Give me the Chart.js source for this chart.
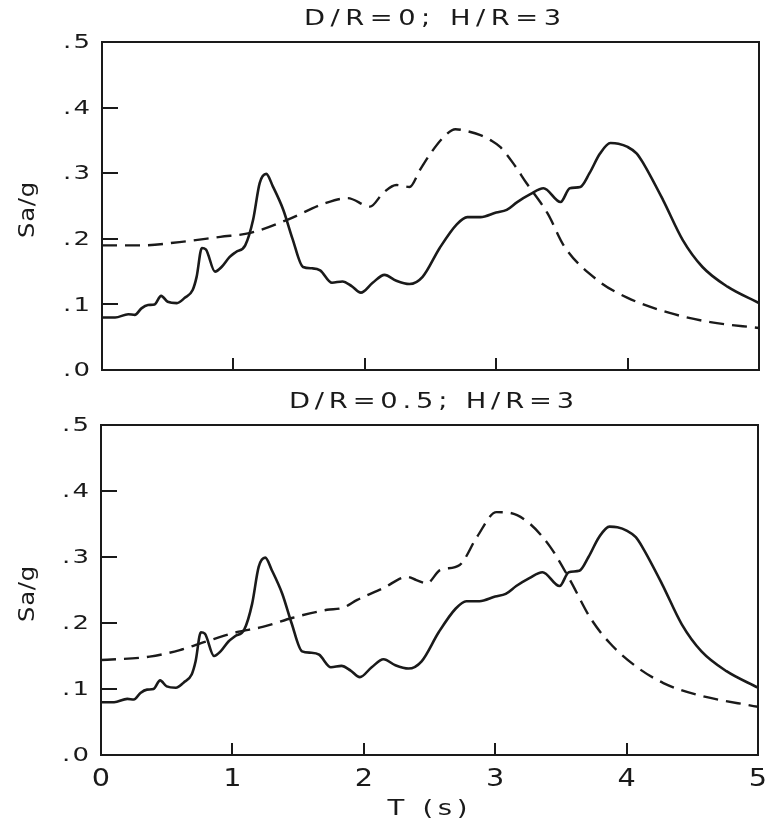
<!DOCTYPE html>
<html>
<head>
<meta charset="utf-8">
<script src="https://cdn.jsdelivr.net/npm/chart.js@4.4.0/dist/chart.umd.min.js"></script>
<style>
  body { margin: 0; background: #fff; }
  .panel { position: absolute; left: 0; width: 770px; }
  #top { top: 0; height: 390px; }
  #bottom { top: 385px; height: 437px; }
</style>
</head>
<body>
<div class="panel" id="top"><canvas id="chartTop"></canvas></div>
<div class="panel" id="bottom"><canvas id="chartBottom"></canvas></div>
<script>
// period axis and Sa/g values
var solidT = [0, 0.1, 0.2, 0.25, 0.3, 0.35, 0.4, 0.45, 0.5, 0.57, 0.63, 0.69, 0.72, 0.76, 0.79, 0.86, 0.91, 0.97, 1.02, 1.09, 1.15, 1.2, 1.25, 1.3, 1.38, 1.45, 1.53, 1.6, 1.66, 1.75, 1.83, 1.9, 1.97, 2.06, 2.15, 2.24, 2.34, 2.44, 2.57, 2.7, 2.78, 2.88, 3.0, 3.08, 3.16, 3.26, 3.36, 3.49, 3.56, 3.64, 3.71, 3.79, 3.87, 3.93, 4.0, 4.07, 4.12, 4.27, 4.42, 4.57, 4.76, 5.0];
var solidSa = [0.08, 0.08, 0.085, 0.084, 0.094, 0.099, 0.1, 0.113, 0.104, 0.102, 0.11, 0.122, 0.142, 0.186, 0.184, 0.15, 0.157, 0.172, 0.18, 0.19, 0.229, 0.285, 0.299, 0.28, 0.244, 0.2, 0.157, 0.155, 0.152, 0.133, 0.135, 0.128, 0.118, 0.133, 0.145, 0.136, 0.131, 0.142, 0.186, 0.222, 0.233, 0.233, 0.24, 0.244, 0.256, 0.268, 0.277, 0.256, 0.277, 0.279, 0.30, 0.33, 0.346, 0.345, 0.34, 0.33, 0.315, 0.259, 0.198, 0.157, 0.127, 0.102];

var dashTopT = [0, 0.3, 0.59, 0.9, 1.13, 1.41, 1.71, 1.87, 2.04, 2.14, 2.24, 2.34, 2.42, 2.5, 2.6, 2.69, 2.78, 2.88, 2.96, 3.03, 3.13, 3.23, 3.39, 3.52, 3.77, 4.0, 4.32, 4.63, 5.0];
var dashTopSa = [0.19, 0.19, 0.195, 0.203, 0.209, 0.229, 0.255, 0.262, 0.249, 0.27, 0.282, 0.279, 0.305, 0.33, 0.355, 0.367, 0.364, 0.358, 0.35, 0.34, 0.315, 0.285, 0.239, 0.188, 0.137, 0.11, 0.087, 0.073, 0.064];

var dashBotT = [0, 0.37, 0.6, 0.8, 1.03, 1.23, 1.46, 1.72, 1.84, 1.95, 2.15, 2.33, 2.40, 2.48, 2.58, 2.73, 2.86, 3.01, 3.11, 3.26, 3.42, 3.57, 3.72, 3.87, 4.08, 4.28, 4.54, 5.0];
var dashBotSa = [0.144, 0.149, 0.159, 0.172, 0.186, 0.194, 0.208, 0.22, 0.223, 0.235, 0.253, 0.27, 0.265, 0.26, 0.28, 0.288, 0.33, 0.368, 0.367, 0.351, 0.315, 0.265, 0.209, 0.17, 0.133, 0.109, 0.091, 0.073];

var xTicks = [0, 1, 2, 3, 4, 5];
var yTicks = [0, 0.1, 0.2, 0.3, 0.4, 0.5];
var yTickLabels = [".0", ".1", ".2", ".3", ".4", ".5"];

function pts(xs, ys) {
  return xs.map(function (x, i) { return { x: x, y: ys[i] }; });
}

var ink = "#1a1a1a";
var font = "'DejaVu Sans', sans-serif";

// plotter-style lettering: glyphs widened a bit, then spaced out to the target width
function fitText(ctx, txt, x, y, size, width, align, stretch) {
  ctx.save();
  ctx.font = size + "px " + font;
  var base = ctx.measureText(txt).width;
  var sx = stretch || 1.25;
  var sp = txt.length > 1 ? Math.max(0, (width / sx - base) / (txt.length - 1)) : 0;
  ctx.letterSpacing = sp + "px";
  ctx.fillStyle = ink;
  ctx.textBaseline = "middle";
  ctx.textAlign = "left";
  var w = (base + sp * (txt.length - 1)) * sx;
  var x0 = align === "right" ? x - w : (align === "left" ? x : x - w / 2);
  ctx.translate(x0, y);
  ctx.scale(sx, 1);
  ctx.fillText(txt, 0, 0);
  ctx.restore();
}

// frame, inward ticks and all labels
var framePlugin = {
  id: "frame",
  afterDraw: function (chart, args, opts) {
    var ctx = chart.ctx, a = chart.chartArea;
    var xs = chart.scales.x, ys = chart.scales.y;
    ctx.save();
    ctx.strokeStyle = ink;
    ctx.lineWidth = 2;
    ctx.strokeRect(a.left, a.top, a.right - a.left, a.bottom - a.top);
    ctx.beginPath();
    yTicks.forEach(function (v) {
      if (v <= 0 || v >= 0.5) return;
      var py = Math.round(ys.getPixelForValue(v));
      ctx.moveTo(a.left, py);
      ctx.lineTo(a.left + 16, py);
    });
    xTicks.forEach(function (v) {
      if (v <= 0 || v >= 5) return;
      var px = Math.round(xs.getPixelForValue(v));
      ctx.moveTo(px, a.bottom);
      ctx.lineTo(px, a.bottom - 12);
    });
    ctx.stroke();
    ctx.restore();

    yTicks.forEach(function (v, i) {
      fitText(ctx, yTickLabels[i], a.left - 12, ys.getPixelForValue(v) + 1, 20, 27, "right", 1.3);
    });
    fitText(ctx, opts.title, (a.left + a.right) / 2 + 2, a.top - 22, 21, opts.titleWidth, "center", 1.3);

    ctx.save();
    ctx.translate(28, (a.top + a.bottom) / 2 + 4);
    ctx.rotate(-Math.PI / 2);
    fitText(ctx, "Sa/g", 0, 0, 22, 56, "center", 1.1);
    ctx.restore();

    if (opts.showX) {
      xTicks.forEach(function (v) {
        fitText(ctx, String(v), xs.getPixelForValue(v), a.bottom + 24, 25, 0, "center", 1.15);
      });
      fitText(ctx, "T (s)", (a.left + a.right) / 2 - 2, a.bottom + 54, 22, 80, "center", 1.25);
    }
  }
};

function makeChart(id, dashData, title, titleWidth, showX, pad) {
  return new Chart(document.getElementById(id), {
    type: "line",
    data: {
      datasets: [
        {
          label: "solid",
          data: pts(solidT, solidSa),
          borderColor: ink,
          borderWidth: 2.6,
          pointRadius: 0,
          tension: 0.25,
          cubicInterpolationMode: "monotone"
        },
        {
          label: "dashed",
          data: dashData,
          borderColor: ink,
          borderWidth: 2.4,
          borderDash: [15, 8],
          pointRadius: 0,
          tension: 0.25,
          cubicInterpolationMode: "monotone"
        }
      ]
    },
    options: {
      responsive: true,
      maintainAspectRatio: false,
      animation: false,
      layout: { padding: pad },
      plugins: {
        legend: { display: false },
        tooltip: { enabled: false },
        frame: { title: title, titleWidth: titleWidth, showX: showX }
      },
      scales: {
        x: {
          type: "linear",
          min: 0,
          max: 5,
          grid: { display: false },
          border: { display: false },
          ticks: { display: false },
          afterFit: function (s) { s.height = 0; }
        },
        y: {
          min: 0,
          max: 0.5,
          grid: { display: false },
          border: { display: false },
          ticks: { display: false },
          afterFit: function (s) { s.width = 0; }
        }
      }
    },
    plugins: [framePlugin]
  });
}

makeChart("chartTop", pts(dashTopT, dashTopSa), "D/R=0; H/R=3", 257, false,
  { left: 102, top: 42, right: 11, bottom: 20 });
makeChart("chartBottom", pts(dashBotT, dashBotSa), "D/R=0.5; H/R=3", 285, true,
  { left: 101, top: 40, right: 12, bottom: 67 });
</script>
</body>
</html>
